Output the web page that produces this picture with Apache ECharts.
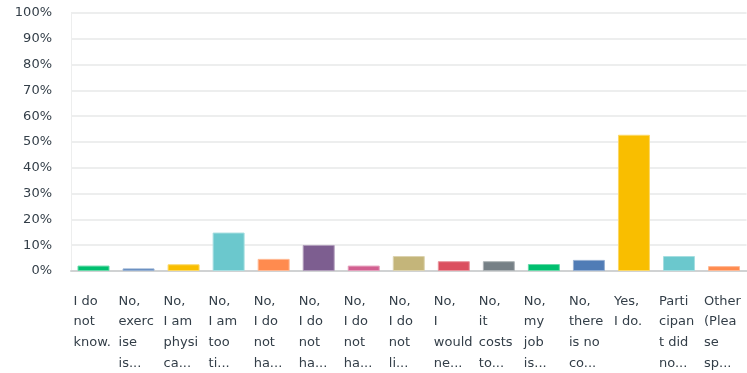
<!DOCTYPE html>
<html>
<head>
<meta charset="utf-8">
<script src="https://cdn.jsdelivr.net/npm/echarts@6/dist/echarts.min.js"></script>
<style>html,body{margin:0;padding:0;background:#fff}#c{width:747px;height:373px}</style>
</head>
<body>
<div id="c"></div>
<script>
var categories = [
  "I do\nnot\nknow.",
  "No,\nexerc\nise\nis...",
  "No,\nI am\nphysi\nca...",
  "No,\nI am\ntoo\nti...",
  "No,\nI do\nnot\nha...",
  "No,\nI do\nnot\nha...",
  "No,\nI do\nnot\nha...",
  "No,\nI do\nnot\nli...",
  "No,\nI\nwould\nne...",
  "No,\nit\ncosts\nto...",
  "No,\nmy\njob\nis...",
  "No,\nthere\nis no\nco...",
  "Yes,\nI do.",
  "Parti\ncipan\nt did\nno...",
  "Other\n(Plea\nse\nsp..."
];
var values = [2.1, 1.0, 2.6, 14.9, 4.7, 10.1, 2.1, 5.8, 3.8, 3.8, 2.7, 4.3, 52.8, 5.8, 1.9];
var colors = ["#00BF6F", "#507CB6", "#F9BE00", "#6BC8CD", "#FF8B4F", "#7D5E90", "#D25F90", "#C4B57A", "#DB4F5F", "#768086", "#00BF6F", "#507CB6", "#F9BE00", "#6BC8CD", "#FF8B4F"];
var borders = ["#66D9A9", "#96B0D3", "#FBD866", "#A6DEE1", "#FFB995", "#B19EBC", "#E49FBC", "#DCD3AF", "#E9959E", "#ADB3B6", "#66D9A9", "#96B0D3", "#FBD866", "#A6DEE1", "#FFB995"];
var yTicks = [0, 10, 20, 30, 40, 50, 60, 70, 80, 90, 100];

var chart = echarts.init(document.getElementById('c'), null, {renderer: 'canvas'});
var FONT = 'DejaVu Sans';
chart.setOption({
  animation: false,
  grid: {left: 71, right: 0, top: 13, bottom: 102, containLabel: false},
  xAxis: {
    type: 'category',
    data: categories,
    axisLine: {show: true, lineStyle: {color: '#D0D2D3', width: 2}},
    axisTick: {show: false},
    axisLabel: {
      interval: 0,
      margin: 20,
      color: '#333E48',
      fontFamily: FONT,
      fontSize: 13,
      align: 'center',
      verticalAlign: 'top',
      formatter: function (v) {
        return v.split('\n').map(function (s) { return '{t|' + s + '}'; }).join('\n');
      },
      rich: {t: {width: 40, align: 'left', fontFamily: FONT, fontSize: 13, lineHeight: 20.7, color: '#333E48'}}
    }
  },
  yAxis: {
    type: 'value',
    min: yTicks[0],
    max: yTicks[yTicks.length - 1],
    interval: 10,
    axisLine: {show: true, lineStyle: {color: '#EDEEEE', width: 1}},
    axisTick: {show: false},
    splitLine: {lineStyle: {color: '#EDEEEE', width: 2}},
    axisLabel: {
      formatter: '{value}%',
      margin: 19,
      color: '#333E48',
      fontFamily: FONT,
      fontSize: 13
    }
  },
  series: [{
    type: 'bar',
    barCategoryGap: '29%',
    data: values.map(function (v, i) {
      return {value: v, itemStyle: {color: colors[i], borderColor: borders[i], borderWidth: 1}};
    })
  }]
});
</script>
</body>
</html>
